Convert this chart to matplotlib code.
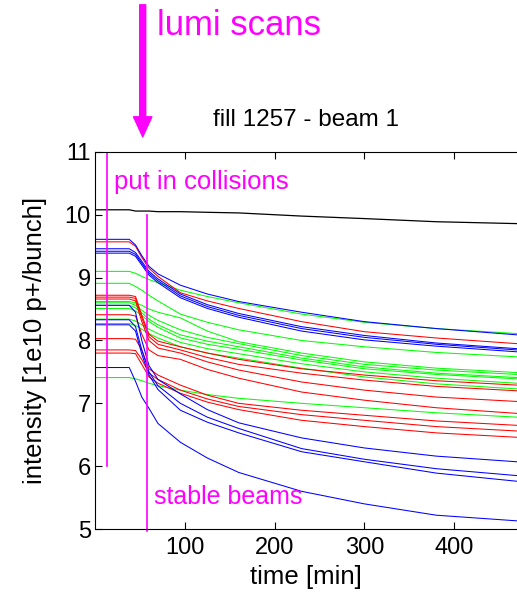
import matplotlib
matplotlib.use('Agg')
import matplotlib.pyplot as plt

plt.rcParams['font.family'] = ['Liberation Sans', 'DejaVu Sans']

time_min = [0, 38, 45, 52, 60, 70, 95, 125, 160, 230, 300, 380, 470]

# bunch intensities [1e10 p+/bunch]
black_1 = [10.08, 10.08, 10.06, 10.06, 10.06, 10.05, 10.05, 10.04, 10.03, 9.98, 9.94, 9.89, 9.86]

blue_1 = [9.61, 9.61, 9.52, 9.35, 9.18, 9.06, 8.88, 8.74, 8.62, 8.45, 8.30, 8.19, 8.09]
blue_2 = [9.46, 9.46, 9.40, 9.26, 9.10, 8.98, 8.74, 8.57, 8.43, 8.22, 8.08, 7.96, 7.87]
blue_3 = [9.42, 9.42, 9.37, 9.23, 9.07, 8.95, 8.71, 8.54, 8.40, 8.19, 8.05, 7.94, 7.85]
blue_4 = [9.39, 9.39, 9.34, 9.20, 9.04, 8.92, 8.68, 8.51, 8.37, 8.15, 8.01, 7.91, 7.82]
blue_5 = [8.56, 8.56, 8.45, 8.00, 7.60, 7.38, 7.15, 6.90, 6.69, 6.45, 6.29, 6.16, 6.07]
blue_6 = [8.33, 8.33, 8.22, 7.85, 7.50, 7.28, 7.00, 6.78, 6.60, 6.28, 6.11, 5.96, 5.85]
blue_7 = [8.25, 8.25, 8.15, 7.78, 7.45, 7.22, 6.89, 6.70, 6.53, 6.23, 6.07, 5.89, 5.76]
blue_8 = [7.57, 7.57, 7.35, 7.10, 6.92, 6.68, 6.38, 6.13, 5.90, 5.60, 5.40, 5.22, 5.13]

red_1 = [9.57, 9.57, 9.50, 9.32, 9.15, 9.02, 8.76, 8.63, 8.51, 8.30, 8.14, 8.04, 7.95]
red_2 = [8.72, 8.72, 8.70, 8.40, 8.10, 7.99, 7.90, 7.80, 7.70, 7.55, 7.45, 7.36, 7.29]
red_3 = [8.69, 8.69, 8.67, 8.36, 8.06, 7.94, 7.85, 7.73, 7.62, 7.48, 7.37, 7.27, 7.20]
red_4 = [8.66, 8.66, 8.63, 8.30, 8.00, 7.88, 7.80, 7.66, 7.53, 7.34, 7.21, 7.10, 7.03]
red_5 = [8.41, 8.41, 8.39, 8.10, 7.85, 7.76, 7.70, 7.54, 7.40, 7.18, 7.05, 6.93, 6.84]
red_6 = [8.03, 8.03, 8.02, 7.85, 7.55, 7.45, 7.29, 7.13, 7.00, 6.89, 6.81, 6.72, 6.65]
red_7 = [7.85, 7.85, 7.84, 7.70, 7.48, 7.38, 7.21, 7.07, 6.95, 6.82, 6.73, 6.63, 6.56]
red_8 = [7.80, 7.80, 7.79, 7.62, 7.42, 7.32, 7.16, 7.02, 6.90, 6.73, 6.63, 6.53, 6.46]

green_1 = [9.10, 9.10, 9.07, 9.02, 8.97, 8.92, 8.80, 8.70, 8.60, 8.42, 8.29, 8.19, 8.11]
green_2 = [8.91, 8.91, 8.86, 8.80, 8.72, 8.63, 8.42, 8.29, 8.17, 8.00, 7.90, 7.81, 7.74]
green_3 = [8.62, 8.62, 8.60, 8.56, 8.50, 8.45, 8.36, 8.15, 7.98, 7.80, 7.66, 7.56, 7.49]
green_4 = [8.60, 8.60, 8.56, 8.48, 8.40, 8.32, 8.17, 8.05, 7.95, 7.76, 7.62, 7.53, 7.46]
green_5 = [8.56, 8.56, 8.52, 8.44, 8.34, 8.25, 8.09, 7.99, 7.90, 7.72, 7.58, 7.48, 7.41]
green_6 = [8.51, 8.51, 8.47, 8.40, 8.30, 8.21, 8.04, 7.94, 7.86, 7.69, 7.55, 7.46, 7.39]
green_7 = [8.34, 8.34, 8.31, 8.25, 8.18, 8.11, 7.97, 7.87, 7.79, 7.63, 7.50, 7.40, 7.32]
green_8 = [8.27, 8.27, 8.24, 8.18, 8.11, 8.04, 7.90, 7.80, 7.72, 7.56, 7.42, 7.31, 7.23]
green_9 = [7.41, 7.41, 7.39, 7.36, 7.32, 7.28, 7.21, 7.14, 7.08, 7.00, 6.93, 6.85, 6.78]

greens = [green_1, green_2, green_3, green_4, green_5, green_6, green_7, green_8, green_9]
reds = [red_1, red_2, red_3, red_4, red_5, red_6, red_7, red_8]
blues = [blue_1, blue_2, blue_3, blue_4, blue_5, blue_6, blue_7, blue_8]

magenta = '#ff00ff'

fig = plt.figure(figsize=(5.17, 6.0), dpi=100)
ax = fig.add_axes([0.184, 0.1183, 0.816, 0.6284])

ax.plot(time_min, black_1, color='black', lw=0.9)
for v in greens:
    ax.plot(time_min, v, color='#00ff00', lw=0.75)
for v in reds:
    ax.plot(time_min, v, color='#ff0000', lw=0.75)
for v in blues:
    ax.plot(time_min, v, color='#0000ff', lw=0.75)

# markers for collisions / stable beams
ax.plot([13, 13], [6, 11], color=magenta, lw=1.2)
ax.plot([58, 58], [4.97, 10.0], color=magenta, lw=1.2, clip_on=False)
ax.text(21, 10.52, 'put in collisions', color=magenta, fontsize=18.5, va='center')
ax.text(66, 5.51, 'stable beams', color=magenta, fontsize=18, va='center')

ax.annotate('', xy=(53, 0.772), xycoords=('data', 'figure fraction'),
            xytext=(53, 0.992), textcoords=('data', 'figure fraction'),
            arrowprops=dict(arrowstyle='simple,head_length=1.2,head_width=1.1,tail_width=0.36',
                            color=magenta, mutation_scale=12, shrinkA=0, shrinkB=0))
fig.text(0.303, 0.958, 'lumi scans', color=magenta, fontsize=25, va='center')

fig.text(0.592, 0.80, 'fill 1257 - beam 1', fontsize=17.5, ha='center', va='center')

ax.set_xlim(0, 470)
ax.set_ylim(5, 11)
ax.set_xticks([100, 200, 300, 400])
ax.set_yticks([5, 6, 7, 8, 9, 10, 11])
ax.tick_params(direction='in', top=True, length=5, labelsize=17)
ax.tick_params(axis='y', pad=3)
ax.tick_params(axis='x', pad=6)
ax.spines['right'].set_visible(False)
ax.set_xlabel('time [min]', fontsize=18.5)
ax.set_ylabel('intensity [1e10 p+/bunch]', fontsize=18.5, labelpad=13)

fig.savefig('out.png', dpi=100)
